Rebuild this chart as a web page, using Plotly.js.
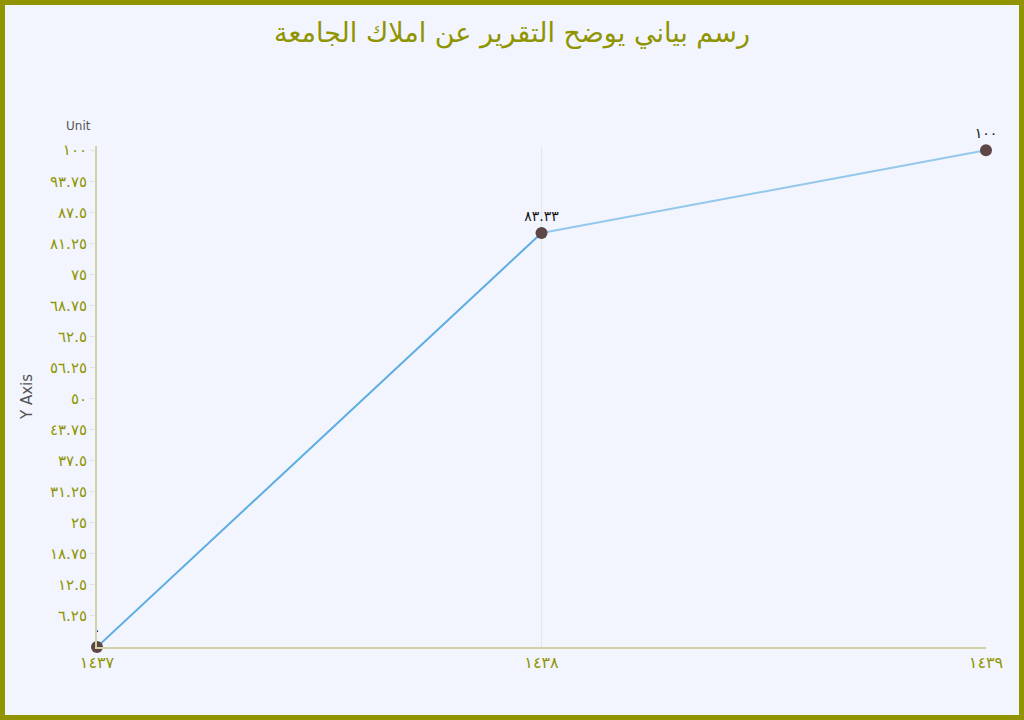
<!DOCTYPE html>
<html>
<head>
<meta charset="utf-8">
<script src="https://cdn.plot.ly/plotly-3.0.1.min.js"></script>
<style>
html,body{margin:0;padding:0;background:#f2f5fe;}
#wrap{width:1024px;height:720px;box-sizing:border-box;border:5px solid #8f9400;background:#f2f5fe;}
#chart{width:1014px;height:710px;}
</style>
</head>
<body>
<div id="wrap"><div id="chart"></div></div>
<script>
const categories = ['١٤٣٧', '١٤٣٨', '١٤٣٩'];
const values = [0, 83.33, 100];
const valueLabels = ['٠', '٨٣.٣٣', '١٠٠'];
const yTickVals = [6.25, 12.5, 18.75, 25, 31.25, 37.5, 43.75, 50, 56.25, 62.5, 68.75, 75, 81.25, 87.5, 93.75, 100];
const yTickText = ['٦.٢٥', '١٢.٥', '١٨.٧٥', '٢٥', '٣١.٢٥', '٣٧.٥', '٤٣.٧٥', '٥٠', '٥٦.٢٥', '٦٢.٥', '٦٨.٧٥', '٧٥', '٨١.٢٥', '٨٧.٥', '٩٣.٧٥', '١٠٠'];
const segColors = ['#5dade2', '#94c7ec'];

const olive = '#8f9400';
const font = 'DejaVu Sans, Noto Sans, sans-serif';

const traces = [];
for (let i = 0; i < categories.length - 1; i++) {
  traces.push({
    type: 'scatter', mode: 'lines',
    x: categories.slice(i, i + 2), y: values.slice(i, i + 2),
    line: {color: segColors[i], width: 2},
    hoverinfo: 'skip', showlegend: false, cliponaxis: false
  });
}
traces.push({
  type: 'scatter', mode: 'markers+text',
  x: categories, y: values,
  text: valueLabels, textposition: 'top center',
  textfont: {family: font, size: 14, color: '#111'},
  marker: {color: '#5c4646', size: 12},
  showlegend: false, cliponaxis: false
});

const layout = {
  width: 1014, height: 710,
  paper_bgcolor: '#f2f5fe', plot_bgcolor: '#f2f5fe',
  margin: {l: 92, r: 33, t: 141, b: 68},
  font: {family: font},
  title: {text: 'رسم بياني يوضح التقرير عن املاك الجامعة', x: 0.5, xanchor: 'center', y: 0.961, yanchor: 'middle',
    font: {family: font, size: 27, color: olive}},
  xaxis: {
    type: 'category', range: [0, 2], fixedrange: true,
    showline: true, linecolor: '#d2d2a6', linewidth: 2,
    showgrid: true, gridcolor: '#e4e6ea', gridwidth: 1,
    ticks: '', zeroline: false,
    tickfont: {family: font, size: 16, color: olive}
  },
  yaxis: {
    range: [0, 100.85], fixedrange: true,
    tickvals: yTickVals, ticktext: yTickText,
    showline: true, linecolor: '#d2d2a6', linewidth: 2,
    showgrid: false, zeroline: false,
    ticks: 'outside', ticklen: 5, tickcolor: '#e2e2e2', tickwidth: 1,
    tickfont: {family: font, size: 15, color: olive},
    title: {text: 'Y Axis', standoff: 14, font: {family: font, size: 15, color: '#555'}}
  },
  annotations: [{
    text: 'Unit', xref: 'paper', yref: 'paper', x: -0.004, y: 1.04,
    xanchor: 'right', yanchor: 'middle', showarrow: false,
    font: {family: font, size: 12, color: '#555'}
  }]
};

Plotly.newPlot('chart', traces, layout, {displayModeBar: false, staticPlot: true});
</script>
</body>
</html>
